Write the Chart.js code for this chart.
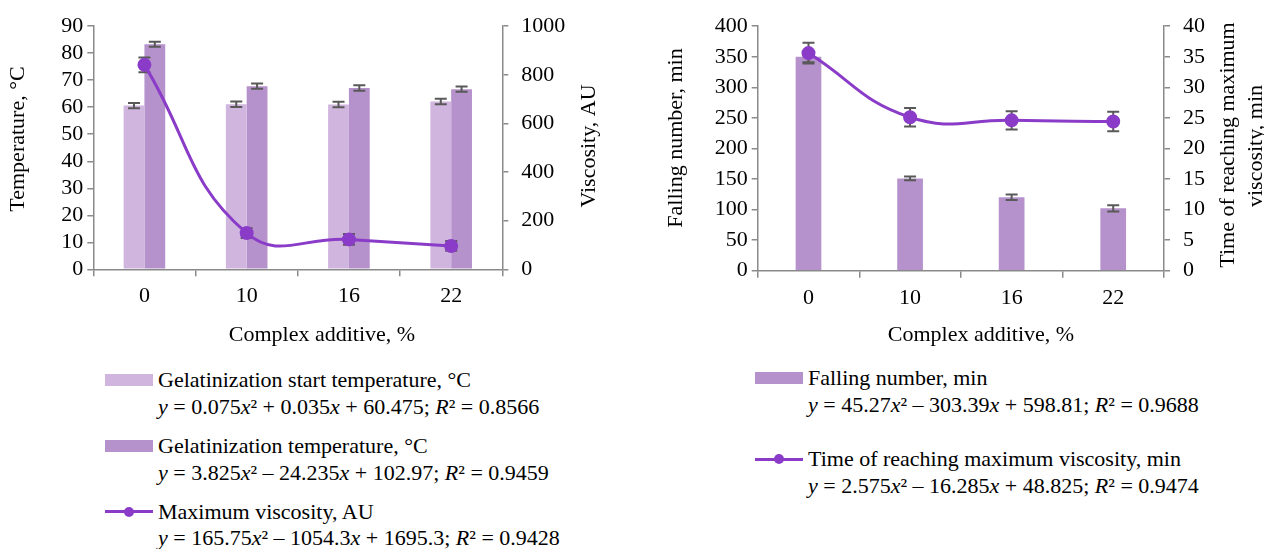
<!DOCTYPE html>
<html>
<head>
<meta charset="utf-8">
<script src="https://cdn.jsdelivr.net/npm/chart.js@4.4.1/dist/chart.umd.min.js"></script>
<style>
  body { margin: 0; background: #fff; width: 1264px; height: 549px; overflow: hidden; position: relative;
         font-family: "Liberation Serif", "Times New Roman", serif; color: #000; }
  .box { position: absolute; top: 0; height: 350px; }
  .leg { position: absolute; font-size: 22px; line-height: 26.5px; white-space: nowrap; }
  .sw { position: absolute; width: 48px; height: 12px; }
  .lsw { position: absolute; width: 48px; height: 12px; }
  .lsw .ln { position: absolute; left: 0; top: 4.5px; width: 48px; height: 3px; background: rgb(138, 60, 200); }
  .lsw .dt { position: absolute; left: 19px; top: 1px; width: 10px; height: 10px; border-radius: 50%; background: rgb(138, 60, 200); }
</style>
</head>
<body>
<div class="box" style="left:0;width:640px"><canvas id="gelChart" width="640" height="350"></canvas></div>
<div class="box" style="left:640px;width:624px"><canvas id="fallChart" width="624" height="350"></canvas></div>

<div class="sw" style="left:105px;top:374px;background:rgb(208,182,222)"></div>
<div class="leg" style="left:158px;top:367px">Gelatinization start temperature, °C<br><i>y</i> = 0.075<i>x</i>² + 0.035<i>x</i> + 60.475; <i>R</i>² = 0.8566</div>
<div class="sw" style="left:105px;top:440px;background:rgb(181,146,203)"></div>
<div class="leg" style="left:158px;top:433px">Gelatinization temperature, °C<br><i>y</i> = 3.825<i>x</i>² – 24.235<i>x</i> + 102.97; <i>R</i>² = 0.9459</div>
<div class="lsw" style="left:105px;top:505.5px"><div class="ln"></div><div class="dt"></div></div>
<div class="leg" style="left:158px;top:498.5px">Maximum viscosity, AU<br><i>y</i> = 165.75<i>x</i>² – 1054.3<i>x</i> + 1695.3; <i>R</i>² = 0.9428</div>

<div class="sw" style="left:755px;top:372px;background:rgb(181,146,203)"></div>
<div class="leg" style="left:808px;top:365px">Falling number, min<br><i>y</i> = 45.27<i>x</i>² – 303.39<i>x</i> + 598.81; <i>R</i>² = 0.9688</div>
<div class="lsw" style="left:755px;top:453px"><div class="ln"></div><div class="dt"></div></div>
<div class="leg" style="left:808px;top:446px">Time of reaching maximum viscosity, min<br><i>y</i> = 2.575<i>x</i>² – 16.285<i>x</i> + 48.825; <i>R</i>² = 0.9474</div>

<script>
// data
const additive = ['0', '10', '16', '22'];

const startTemp = [60.6, 61.1, 61.0, 62.1];
const startTempErr = [1.0, 1.0, 1.0, 1.0];
const gelTemp = [83.3, 67.8, 67.1, 66.7];
const gelTempErr = [0.9, 1.0, 1.0, 1.0];
const maxVisc = [841, 149, 123, 96];
const maxViscErr = [30, 20, 22, 20];

const fallingNumber = [350, 151, 120, 102];
const fallingNumberErr = [9, 3, 4.5, 5];
const timeMaxVisc = [35.6, 25.1, 24.6, 24.4];
const timeMaxViscErr = [1.7, 1.5, 1.5, 1.6];

const LIGHT = 'rgb(208, 182, 222)';
const DARK = 'rgb(181, 146, 203)';
const LINE = 'rgb(138, 60, 200)';
const AXIS = '#8a8a8a';
const ERR = '#595959';
const FONT = { family: '"Liberation Serif", "Times New Roman", serif', size: 22 };

// error bars: bars get them after drawing, lines before (so the dots sit on top)
function drawErrors(chart, meta) {
    const ds = chart.data.datasets[meta.index];
    if (!ds.errors) return;
    const scale = chart.scales[meta.yAxisID];
    const ctx = chart.ctx;
    ctx.save();
    ctx.strokeStyle = ERR;
    ctx.lineWidth = 2;
    meta.data.forEach(function (el, i) {
        const v = ds.data[i], e = ds.errors[i];
        const x = el.x;
        const y1 = scale.getPixelForValue(v + e);
        const y2 = scale.getPixelForValue(v - e);
        ctx.beginPath();
        ctx.moveTo(x, y1); ctx.lineTo(x, y2);
        ctx.moveTo(x - 6, y1); ctx.lineTo(x + 6, y1);
        ctx.moveTo(x - 6, y2); ctx.lineTo(x + 6, y2);
        ctx.stroke();
    });
    ctx.restore();
}
const errorBars = {
    id: 'errorBars',
    beforeDatasetDraw(chart, args) { if (args.meta.type === 'line') drawErrors(chart, args.meta); },
    afterDatasetDraw(chart, args) { if (args.meta.type === 'bar') drawErrors(chart, args.meta); }
};

// axis titles drawn by hand (Excel rotates the right-hand one the same way as the left)
function axisTitles(items) {
    return {
        id: 'axisTitles',
        afterDraw(chart) {
            const ctx = chart.ctx;
            ctx.save();
            ctx.font = FONT.size + 'px ' + FONT.family;
            ctx.fillStyle = '#000';
            ctx.textAlign = 'center';
            ctx.textBaseline = 'middle';
            items.forEach(function (t) {
                ctx.save();
                ctx.translate(t.x, t.y);
                ctx.rotate(t.rot || 0);
                ctx.fillText(t.text, 0, 0);
                ctx.restore();
            });
            ctx.restore();
        }
    };
}

function yAxis(pos, min, max, step, width, pad) {
    return {
        position: pos, min: min, max: max,
        ticks: {
            stepSize: step, autoSkip: false, font: FONT, color: '#000', padding: pad,
            callback: function (v) { return String(v); }
        },
        grid: { drawOnChartArea: false, tickLength: 6, color: AXIS, lineWidth: 1.5 },
        border: { color: AXIS, width: 1.5 },
        afterFit(s) { s.width = width; }
    };
}
function xAxis(height) {
    return {
        ticks: { font: FONT, color: '#000', padding: 7, autoSkip: false },
        grid: { offset: true, drawOnChartArea: false, tickLength: 7, color: AXIS, lineWidth: 1.5 },
        border: { color: AXIS, width: 1.5 },
        afterFit(s) { s.height = height; }
    };
}

document.addEventListener('DOMContentLoaded', function () {
    // Gelatinization chart
    new Chart(document.getElementById('gelChart').getContext('2d'), {
        type: 'bar',
        data: {
            labels: additive,
            datasets: [
                {
                    type: 'line', label: 'Maximum viscosity, AU', data: maxVisc, errors: maxViscErr,
                    yAxisID: 'y1', order: 0, borderColor: LINE, backgroundColor: LINE,
                    borderWidth: 3, pointRadius: 5.5, tension: 0.45
                },
                {
                    label: 'Gelatinization start temperature, °C', data: startTemp, errors: startTempErr,
                    yAxisID: 'y', order: 1, backgroundColor: LIGHT,
                    categoryPercentage: 0.407, barPercentage: 1
                },
                {
                    label: 'Gelatinization temperature, °C', data: gelTemp, errors: gelTempErr,
                    yAxisID: 'y', order: 1, backgroundColor: DARK,
                    categoryPercentage: 0.407, barPercentage: 1
                }
            ]
        },
        options: {
            responsive: false,
            animation: false,
            layout: { padding: { top: 23.3 } },
            plugins: { legend: { display: false }, tooltip: { enabled: false } },
            scales: {
                x: xAxis(80.7),
                y: yAxis('left', 0, 90, 10, 93.3, 4),
                y1: yAxis('right', 0, 1000, 200, 137.7, 13)
            }
        },
        plugins: [errorBars, axisTitles([
            { text: 'Temperature, °C', x: 18.3, y: 139, rot: -Math.PI / 2 },
            { text: 'Viscosity, AU', x: 589, y: 146, rot: -Math.PI / 2 },
            { text: 'Complex additive, %', x: 322, y: 335 }
        ])]
    });

    // Falling number chart
    new Chart(document.getElementById('fallChart').getContext('2d'), {
        type: 'bar',
        data: {
            labels: additive,
            datasets: [
                {
                    type: 'line', label: 'Time of reaching maximum viscosity, min', data: timeMaxVisc,
                    errors: timeMaxViscErr, yAxisID: 'y1', order: 0, borderColor: LINE, backgroundColor: LINE,
                    borderWidth: 3, pointRadius: 5.5, tension: 0.45
                },
                {
                    label: 'Falling number, min', data: fallingNumber, errors: fallingNumberErr,
                    yAxisID: 'y', order: 1, backgroundColor: DARK,
                    categoryPercentage: 0.253, barPercentage: 1
                }
            ]
        },
        options: {
            responsive: false,
            animation: false,
            layout: { padding: { top: 21.6 } },
            plugins: { legend: { display: false }, tooltip: { enabled: false } },
            scales: {
                x: xAxis(79.3),
                y: yAxis('left', 0, 400, 50, 117.7, 4),
                y1: yAxis('right', 0, 40, 5, 100, 13)
            }
        },
        plugins: [errorBars, axisTitles([
            { text: 'Falling number, min', x: 36.7, y: 138, rot: -Math.PI / 2 },
            { text: 'Time of reaching maximum', x: 588.3, y: 145, rot: -Math.PI / 2 },
            { text: 'viscosity, min', x: 616.7, y: 146, rot: -Math.PI / 2 },
            { text: 'Complex additive, %', x: 341, y: 335 }
        ])]
    });
});
</script>
</body>
</html>
